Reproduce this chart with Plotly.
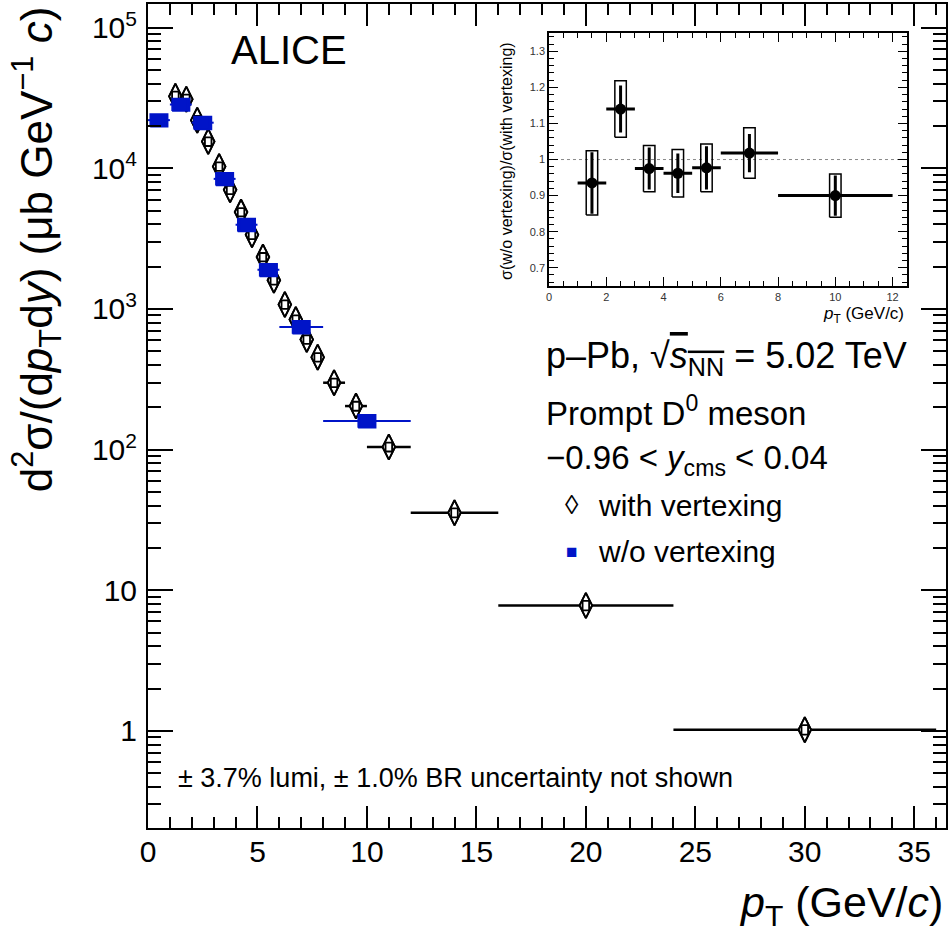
import plotly.graph_objects as go

# ---- main panel: prompt D0 cross section, with vertexing (open diamonds)
pt_v = [1.25, 1.75, 2.25, 2.75, 3.25, 3.75, 4.25, 4.75, 5.25, 5.75,
        6.25, 6.75, 7.25, 7.75, 8.5, 9.5, 11, 14, 20, 30]
hw_v = [0.25, 0.25, 0.25, 0.25, 0.25, 0.25, 0.25, 0.25, 0.25, 0.25,
        0.25, 0.25, 0.25, 0.25, 0.5, 0.5, 1, 2, 4, 6]
sig_v = [32500, 31000, 22000, 15500, 10300, 7030, 4880, 3370, 2340, 1600,
         1075, 841, 607, 454, 299, 204, 104.5, 35.6, 7.8, 1.02]
stat_v = [2500, 2200, 1300, 800, 500, 330, 230, 160, 110, 80,
          55, 45, 35, 28, 18, 13, 7, 2.5, 0.6, 0.09]
sys_v = [2600, 2400, 1600, 1100, 720, 480, 330, 230, 160, 110,
         75, 59, 43, 32, 21, 15, 7.5, 2.6, 0.6, 0.08]

# ---- main panel: w/o vertexing (blue squares)
pt_nv = [0.5, 1.5, 2.5, 3.5, 4.5, 5.5, 7, 10]
hw_nv = [0.5, 0.5, 0.5, 0.5, 0.5, 0.5, 1, 2]
sig_nv = [22000, 28400, 21100, 8410, 3970, 1900, 745, 160]
sys_nv = [2300, 2900, 2200, 880, 420, 200, 78, 17]

# ---- inset: ratio w/o vertexing / with vertexing
pt_r = [1.5, 2.5, 3.5, 4.5, 5.5, 7, 10]
hw_r = [0.5, 0.5, 0.5, 0.5, 0.5, 1, 2]
ratio = [0.935, 1.14, 0.975, 0.962, 0.977, 1.018, 0.90]
stat_r = [0.085, 0.065, 0.058, 0.055, 0.06, 0.053, 0.056]
sys_r = [0.089, 0.078, 0.064, 0.066, 0.066, 0.07, 0.06]

y_ticks = [1, 10, 100, 1000, 10000, 100000]
y_ticktext = ["1", "10", "10<sup>2</sup>", "10<sup>3</sup>", "10<sup>4</sup>", "10<sup>5</sup>"]

FONT = "Liberation Sans, Arial, sans-serif"
BLUE = "#0014c8"


def boxes(xs, ys, hx, hy):
    bx, by = [], []
    for x, y, dy in zip(xs, ys, hy):
        bx += [x - hx, x + hx, x + hx, x - hx, x - hx, None]
        by += [y - dy, y - dy, y + dy, y + dy, y - dy, None]
    return bx, by


fig = go.Figure()

# with vertexing: error bars, masking marker, sys boxes, outline
fig.add_trace(go.Scatter(
    x=pt_v, y=sig_v, mode="markers", marker=dict(size=1, color="rgba(0,0,0,0)"),
    error_x=dict(type="data", array=hw_v, color="black", thickness=2.5, width=0),
    error_y=dict(type="data", array=stat_v, color="black", thickness=2, width=0),
    showlegend=False, hoverinfo="skip"))
fig.add_trace(go.Scatter(
    x=pt_v, y=sig_v, mode="markers",
    marker=dict(symbol="diamond-tall", size=18, color="white",
                line=dict(color="black", width=1.8)),
    showlegend=False))
bx, by = boxes(pt_v, sig_v, 0.15, sys_v)
fig.add_trace(go.Scatter(x=bx, y=by, mode="lines", fill="toself", fillcolor="white",
                         line=dict(color="black", width=1.8), showlegend=False, hoverinfo="skip"))
fig.add_trace(go.Scatter(
    x=pt_v, y=sig_v, mode="markers",
    marker=dict(symbol="diamond-tall-open", size=18, color="black", line=dict(color="black", width=1.8)),
    showlegend=False, hoverinfo="skip"))

# w/o vertexing
fig.add_trace(go.Scatter(
    x=pt_nv, y=sig_nv, mode="markers", marker=dict(size=1, color="rgba(0,0,0,0)"),
    error_x=dict(type="data", array=hw_nv, color=BLUE, thickness=2, width=0),
    showlegend=False, hoverinfo="skip"))
bx, by = boxes(pt_nv, sig_nv, 0.4, sys_nv)
fig.add_trace(go.Scatter(x=bx, y=by, mode="lines", fill="toself", fillcolor=BLUE,
                         line=dict(color=BLUE, width=1.5), showlegend=False, hoverinfo="skip"))
fig.add_trace(go.Scatter(
    x=pt_nv, y=sig_nv, mode="markers",
    marker=dict(symbol="square", size=12, color=BLUE), showlegend=False))

# inset
fig.add_trace(go.Scatter(x=[0, 12.5], y=[1, 1], mode="lines", xaxis="x2", yaxis="y2",
                         line=dict(color="#888888", width=1, dash="dot"),
                         showlegend=False, hoverinfo="skip"))
bx, by = boxes(pt_r, ratio, 0.2, sys_r)
fig.add_trace(go.Scatter(x=bx, y=by, mode="lines", xaxis="x2", yaxis="y2",
                         line=dict(color="black", width=1.5), showlegend=False, hoverinfo="skip"))
fig.add_trace(go.Scatter(
    x=pt_r, y=ratio, mode="markers", xaxis="x2", yaxis="y2",
    marker=dict(symbol="circle", size=11, color="black"),
    error_x=dict(type="data", array=hw_r, color="black", thickness=3, width=0),
    error_y=dict(type="data", array=stat_r, color="black", thickness=3, width=0),
    showlegend=False))

# minor ticks for the log axis
minor_y = [k * 10 ** d for d in range(-1, 6) for k in range(2, 10)]

axis_common = dict(showgrid=False, zeroline=False, showline=True, linecolor="black",
                   mirror="ticks", ticks="inside", tickcolor="black")

fig.update_layout(
    width=950, height=938,
    margin=dict(l=148, r=2, t=3, b=110),
    paper_bgcolor="white", plot_bgcolor="white",
    font=dict(family=FONT, color="black"),
    xaxis=dict(axis_common, range=[0, 36.45], dtick=5, tick0=0, ticklen=22, tickwidth=1.5,
               linewidth=2, tickfont=dict(size=30), ticklabelstandoff=-4,
               minor=dict(dtick=1, ticklen=11, ticks="inside", tickcolor="black", tickwidth=1.5)),
    yaxis=dict(axis_common, type="log", range=[-0.69, 5.168], tickvals=y_ticks,
               ticktext=y_ticktext, ticklen=25, tickwidth=1.5, linewidth=2,
               tickfont=dict(size=30), ticklabelstandoff=3,
               minor=dict(tickvals=minor_y, ticklen=13, ticks="inside", tickcolor="black", tickwidth=1.5)),
    xaxis2=dict(axis_common, domain=[0.5025, 0.951], anchor="y2", range=[0, 12.5],
                dtick=2, ticklen=9, tickwidth=1, linewidth=1.5, tickfont=dict(size=11, color="#333333"),
                minor=dict(dtick=0.5, ticklen=5, ticks="inside", tickcolor="black")),
    yaxis2=dict(axis_common, domain=[0.658, 0.9645], anchor="x2", range=[0.65, 1.35],
                dtick=0.1, ticklen=9, tickwidth=1, linewidth=1.5, tickfont=dict(size=11, color="#333333"),
                minor=dict(dtick=0.02, ticklen=5, ticks="inside", tickcolor="black")),
)


def px_x(p):
    return (p - 148) / 800


def px_y(p):
    return (828 - p) / 825


annotations = [
    dict(text="ALICE", x=px_x(229), y=px_y(49), xanchor="left", yanchor="middle", font=dict(size=40)),
    dict(text="d<sup>2</sup>σ/(d<i>p</i><sub>T</sub>d<i>y</i>) (μb GeV<sup>−1</sup> <i>c</i>)",
         x=px_x(36), y=px_y(3), xanchor="center", yanchor="top", textangle=-90, font=dict(size=44)),
    dict(text="<i>p</i><sub>T</sub> (GeV/<i>c</i>)", x=px_x(947), y=px_y(905),
         xanchor="right", yanchor="middle", font=dict(size=43)),
    dict(text="p–Pb, √<span style='text-decoration:overline'><i>s</i><sub>NN</sub></span> = 5.02 TeV",
         x=px_x(545), y=px_y(357), xanchor="left", yanchor="middle", font=dict(size=36)),
    dict(text="Prompt D<sup>0</sup> meson", x=px_x(545), y=px_y(410),
         xanchor="left", yanchor="middle", font=dict(size=33)),
    dict(text="−0.96 < <i>y</i><sub>cms</sub> < 0.04", x=px_x(545), y=px_y(460),
         xanchor="left", yanchor="middle", font=dict(size=33)),
    dict(text="◊", x=px_x(573), y=px_y(505), xanchor="center", yanchor="middle", font=dict(size=27)),
    dict(text="with vertexing", x=px_x(597), y=px_y(505), xanchor="left", yanchor="middle", font=dict(size=30)),
    dict(text="■", x=px_x(573), y=px_y(551), xanchor="center", yanchor="middle",
         font=dict(size=19, color=BLUE)),
    dict(text="w/o vertexing", x=px_x(597), y=px_y(551), xanchor="left", yanchor="middle", font=dict(size=30)),
    dict(text="± 3.7% lumi, ± 1.0% BR uncertainty not shown", x=px_x(176), y=px_y(778),
         xanchor="left", yanchor="middle", font=dict(size=27)),
    dict(text="σ(w/o vertexing)/σ(with vertexing)", x=px_x(508), y=px_y(160),
         xanchor="center", yanchor="middle", textangle=-90, font=dict(size=16)),
    dict(text="<i>p</i><sub>T</sub> (GeV/c)", x=px_x(908), y=px_y(314),
         xanchor="right", yanchor="middle", font=dict(size=17)),
]
for a in annotations:
    a.update(xref="paper", yref="paper", showarrow=False)
fig.update_layout(annotations=annotations)

# the page body has a default margin; drop it so the figure sits at the window origin
fig.write_html("out.html", config={"displayModeBar": False},
               post_script="document.body.style.margin='0px';")
